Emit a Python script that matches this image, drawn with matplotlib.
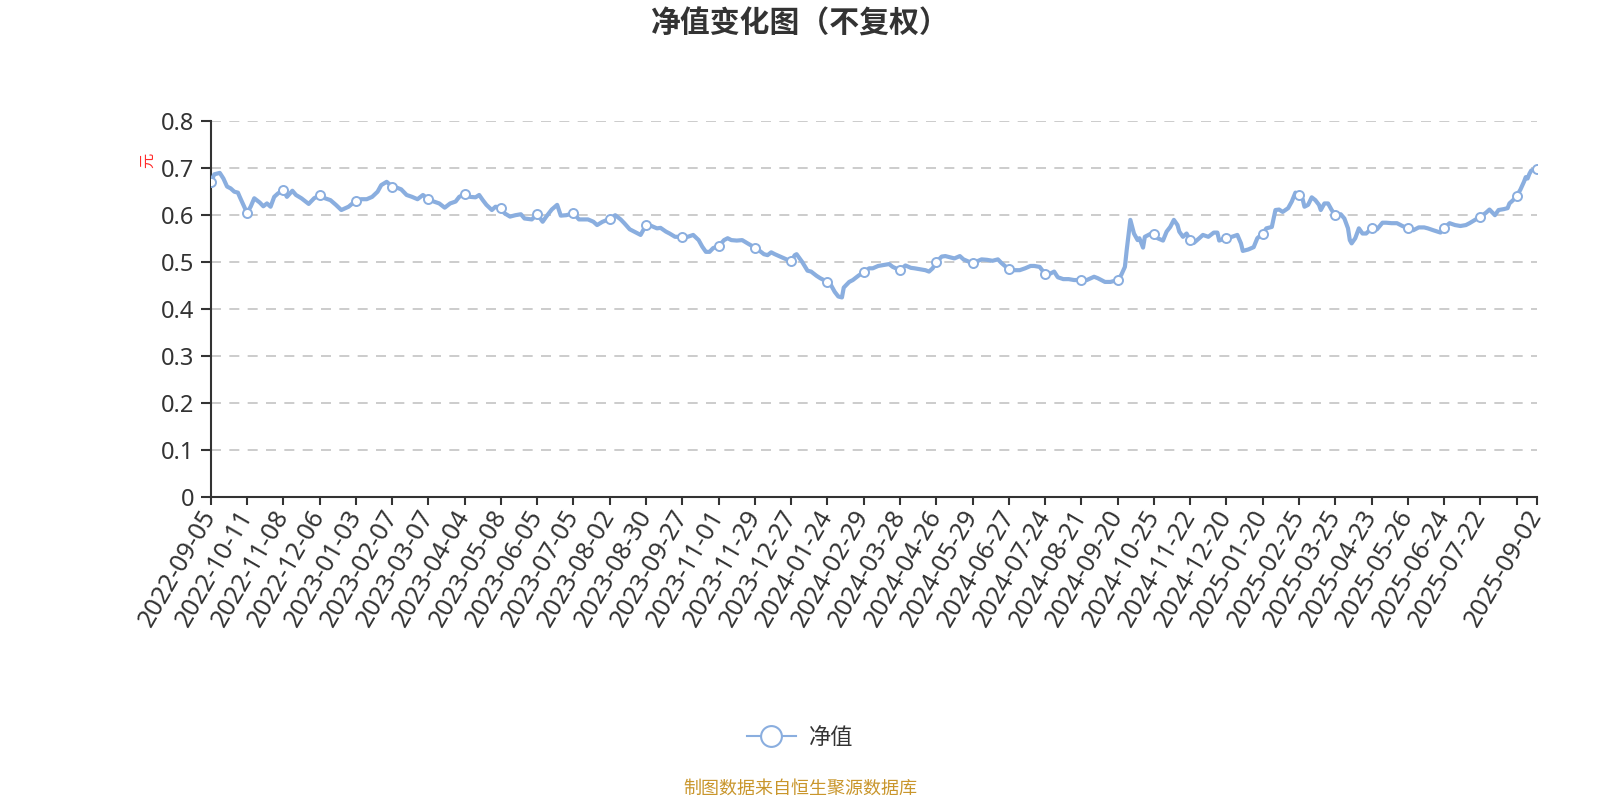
import numpy as np
import matplotlib
matplotlib.use("Agg")
import matplotlib.pyplot as plt
from matplotlib.lines import Line2D

plt.rcParams['font.family'] = ['Noto Sans CJK SC', 'DejaVu Sans']

# ---------------- data ----------------
title = "净值变化图（不复权）"
series_name = "净值"
y_unit = "元"
source_note = "制图数据来自恒生聚源数据库"

n_days = 732            # number of trading days in the series
label_step = 20         # one axis label every 20 trading days
tick_dates = ["2022-09-05", "2022-10-11", "2022-11-08", "2022-12-06", "2023-01-03",
              "2023-02-07", "2023-03-07", "2023-04-04", "2023-05-08", "2023-06-05",
              "2023-07-05", "2023-08-02", "2023-08-30", "2023-09-27", "2023-11-01",
              "2023-11-29", "2023-12-27", "2024-01-24", "2024-02-29", "2024-03-28",
              "2024-04-26", "2024-05-29", "2024-06-27", "2024-07-24", "2024-08-21",
              "2024-09-20", "2024-10-25", "2024-11-22", "2024-12-20", "2025-01-20",
              "2025-02-25", "2025-03-25", "2025-04-23", "2025-05-26", "2025-06-24",
              "2025-07-22", "", "2025-09-02"]

# trading-day number of each reading, and net value read at that day
trade_day = [0, 2, 5, 7, 9, 11, 13, 15, 16, 18, 20, 22, 24, 27, 29, 31, 33, 35, 37, 40,
             42, 45, 47, 50, 54, 57, 60, 63, 66, 69, 72, 76, 80, 83, 86, 89, 92, 94, 97, 100,
             103, 105, 108, 111, 114, 117, 120, 123, 126, 129, 132, 135, 137, 140, 143, 146, 148, 150, 152, 155,
             157, 160, 162, 165, 168, 171, 173, 177, 180, 183, 185, 188, 191, 193, 196, 200, 203, 205, 208, 211,
             213, 216, 220, 223, 226, 228, 231, 234, 237, 240, 243, 246, 248, 251, 253, 256, 260, 263, 266, 269,
             271, 273, 275, 277, 280, 283, 285, 287, 290, 293, 296, 300, 302, 305, 307, 309, 311, 315, 318, 320,
             322, 323, 326, 329, 331, 334, 336, 340, 342, 344, 346, 348, 349, 352, 354, 357, 360, 363, 365, 368,
             371, 374, 376, 380, 383, 386, 388, 391, 394, 396, 398, 400, 403, 405, 408, 410, 413, 415, 418, 420,
             422, 425, 428, 431, 434, 436, 440, 443, 446, 449, 452, 454, 457, 460, 463, 465, 467, 470, 473, 476,
             480, 483, 487, 489, 493, 496, 500, 502, 504, 505, 507, 509, 511, 512, 514, 515, 518, 520, 522, 525,
             527, 529, 531, 533, 534, 536, 538, 540, 542, 545, 547, 550, 553, 555, 556, 560, 563, 566, 568, 569,
             572, 575, 577, 580, 582, 585, 587, 589, 591, 594, 596, 598, 600, 602, 603, 605, 607, 609, 611, 612,
             614, 616, 618, 620, 623, 625, 627, 628, 629, 631, 633, 635, 637, 640, 643, 646, 648, 651, 654, 657,
             660, 663, 666, 669, 671, 674, 678, 680, 683, 686, 689, 692, 694, 697, 700, 703, 705, 708, 710, 713,
             715, 716, 718, 720, 722, 724, 725, 726, 727, 728, 731]
nav = [0.670, 0.686, 0.689, 0.677, 0.660, 0.656, 0.649, 0.647, 0.638, 0.621, 0.604, 0.617, 0.635, 0.626, 0.618, 0.624, 0.617, 0.638, 0.645, 0.653,
       0.638, 0.651, 0.642, 0.635, 0.623, 0.635, 0.641, 0.635, 0.631, 0.621, 0.610, 0.617, 0.630, 0.633, 0.633, 0.638, 0.649, 0.663, 0.670, 0.660,
       0.657, 0.654, 0.642, 0.638, 0.633, 0.642, 0.633, 0.628, 0.624, 0.615, 0.624, 0.628, 0.638, 0.644, 0.638, 0.637, 0.642, 0.631, 0.621, 0.610,
       0.617, 0.615, 0.603, 0.596, 0.599, 0.601, 0.592, 0.590, 0.601, 0.585, 0.596, 0.611, 0.621, 0.598, 0.599, 0.603, 0.590, 0.590, 0.590, 0.585,
       0.578, 0.585, 0.591, 0.599, 0.590, 0.582, 0.569, 0.563, 0.557, 0.578, 0.576, 0.571, 0.572, 0.564, 0.560, 0.553, 0.553, 0.553, 0.557, 0.546,
       0.532, 0.521, 0.521, 0.529, 0.533, 0.546, 0.550, 0.546, 0.545, 0.546, 0.539, 0.530, 0.525, 0.516, 0.514, 0.520, 0.516, 0.509, 0.504, 0.501,
       0.514, 0.516, 0.500, 0.481, 0.479, 0.470, 0.465, 0.457, 0.450, 0.436, 0.426, 0.424, 0.445, 0.457, 0.461, 0.470, 0.478, 0.486, 0.486, 0.491,
       0.493, 0.495, 0.489, 0.482, 0.492, 0.487, 0.486, 0.484, 0.482, 0.479, 0.486, 0.499, 0.511, 0.512, 0.509, 0.507, 0.512, 0.505, 0.500, 0.497,
       0.500, 0.505, 0.504, 0.502, 0.505, 0.497, 0.484, 0.482, 0.482, 0.486, 0.491, 0.491, 0.489, 0.474, 0.475, 0.479, 0.467, 0.463, 0.463, 0.461,
       0.461, 0.461, 0.468, 0.465, 0.457, 0.457, 0.461, 0.472, 0.489, 0.525, 0.589, 0.560, 0.546, 0.550, 0.530, 0.553, 0.559, 0.560, 0.550, 0.545,
       0.564, 0.574, 0.589, 0.578, 0.564, 0.553, 0.560, 0.546, 0.540, 0.550, 0.557, 0.553, 0.562, 0.562, 0.545, 0.551, 0.553, 0.557, 0.539, 0.523,
       0.526, 0.531, 0.550, 0.560, 0.571, 0.574, 0.610, 0.611, 0.606, 0.614, 0.628, 0.647, 0.642, 0.633, 0.617, 0.621, 0.637, 0.631, 0.621, 0.610,
       0.624, 0.624, 0.610, 0.599, 0.601, 0.592, 0.571, 0.546, 0.539, 0.550, 0.571, 0.560, 0.560, 0.571, 0.569, 0.583, 0.583, 0.582, 0.582, 0.576,
       0.571, 0.567, 0.573, 0.573, 0.571, 0.567, 0.562, 0.572, 0.582, 0.578, 0.576, 0.578, 0.582, 0.589, 0.596, 0.604, 0.611, 0.599, 0.610, 0.612,
       0.614, 0.624, 0.631, 0.640, 0.653, 0.670, 0.680, 0.677, 0.687, 0.694, 0.697]

y_ticks = [0, 0.1, 0.2, 0.3, 0.4, 0.5, 0.6, 0.7, 0.8]
y_tick_labels = ["0", "0.1", "0.2", "0.3", "0.4", "0.5", "0.6", "0.7", "0.8"]

# ---------------- styles ----------------
line_color = "#8aaedf"
axis_color = "#333333"
grid_color = "#c4c4c4"
tick_font = ["Noto Sans", "DejaVu Sans"]

fig = plt.figure(figsize=(16, 8), dpi=100)
fig.patch.set_facecolor("white")
ax = fig.add_axes([0.1317, 0.3791, 0.9604 - 0.1317, 0.8491 - 0.3791])

x = np.asarray(trade_day)
y = np.asarray(nav)
ax.plot(x, y, color=line_color, lw=3.0, solid_joinstyle="round", zorder=3)
mask = (x % label_step == 0) | (x == n_days - 1)
ax.plot(x[mask], y[mask], linestyle="none", marker="o", markersize=6.5,
        markerfacecolor="white", markeredgecolor=line_color, markeredgewidth=1.4, zorder=4)

ax.set_xlim(0, n_days - 1)
ax.set_ylim(0, 0.8)

# grid
ax.set_yticks(y_ticks)
ax.set_yticklabels(y_tick_labels, family=tick_font)
for v in y_ticks[1:]:
    ax.axhline(v, color=grid_color, lw=1.2, dashes=(6, 5), zorder=1)

xt = list(range(0, n_days - 1, label_step)) + [n_days - 1]
ax.set_xticks(xt)
ax.set_xticklabels(tick_dates[:len(xt)], rotation=60, ha="right", va="center",
                   rotation_mode="anchor", family=tick_font)

for s in ["top", "right"]:
    ax.spines[s].set_visible(False)
for s in ["left", "bottom"]:
    ax.spines[s].set_color(axis_color)
    ax.spines[s].set_linewidth(1.5)

ax.tick_params(axis="y", length=7, width=1.5, color=axis_color, labelsize=17,
               labelcolor=axis_color, pad=5)
ax.tick_params(axis="x", length=6, width=1.5, color=axis_color, labelsize=18,
               labelcolor=axis_color, pad=5)

# title, unit, legend, footer
fig.text(0.5, 1 - 24 / 800, title, ha="center", va="center", fontsize=21.5,
         fontweight="bold", color="#333333")
fig.text(148 / 1600, 1 - 160 / 800, y_unit, rotation=90, ha="center", va="center",
         fontsize=11, color="#ff2a2a")

handle = Line2D([], [], color=line_color, lw=1.5, marker="o", markersize=15,
                markerfacecolor="white", markeredgecolor=line_color, markeredgewidth=1.5)
fig.legend([handle], [series_name], loc="center", bbox_to_anchor=(800 / 1600, 1 - 737 / 800),
           frameon=False, fontsize=16, handlelength=2.2, handletextpad=0.6,
           labelcolor="#333333")

fig.text(0.5, 1 - 789 / 800, source_note, ha="center", va="center", fontsize=13,
         color="#c9962c")

fig.savefig("out.png", dpi=100, facecolor="white")
